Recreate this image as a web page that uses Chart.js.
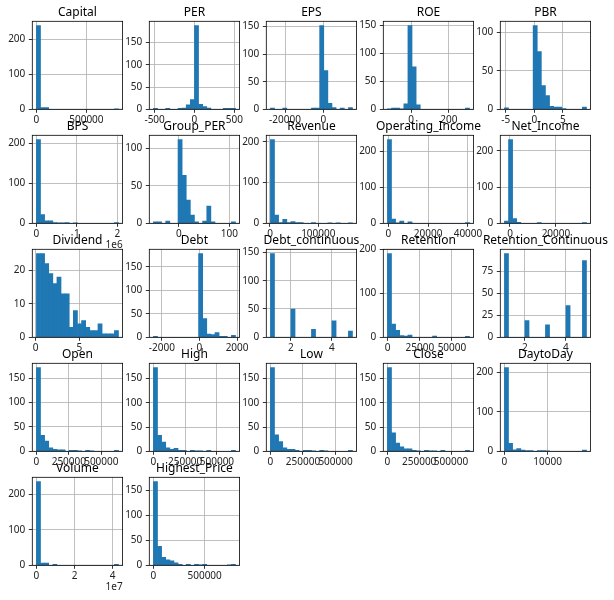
<!DOCTYPE html>
<html><head><meta charset="utf-8">
<script src="https://cdn.jsdelivr.net/npm/chart.js@4.4.0/dist/chart.umd.min.js"></script>
<style>
html,body{margin:0;padding:0;background:#fff;}
body{width:614px;height:600px;position:relative;overflow:hidden;}
canvas{position:absolute;}
</style></head><body>
<script>
// ---------- data (20 bins each) ----------
const titles = ["Capital","PER","EPS","ROE","PBR","BPS","Group_PER","Revenue","Operating_Income","Net_Income",
  "Dividend","Debt","Debt_continuous","Retention","Retention_Continuous","Open","High","Low","Close","DaytoDay",
  "Volume","Highest_Price"];

const capitalCounts   = [240,5,5,0,0,0,0,0,0,0,0,0,0,0,0,0,0,0,0,1];
const perCounts       = [2,0,0,2,0,0,2,3,10,22,188,11,6,3,0,0,0,2,2,2];
const epsCounts       = [2,0,0,2,0,0,0,0,0,0,2,2,152,70,11,3,0,2,0,3];
const roeCounts       = [1,2,2,1,10,150,76,8,0,0,0,0,0,0,0,0,0,0,0,2];
const pbrCounts       = [2,0,0,0,0,0,0,109,75,31,18,4,3,3,1,0,0,0,0,3];
const bpsCounts       = [210,22,6,6,2,1,1,2,0,1,0,0,0,0,0,0,0,0,0,2];
const groupPerCounts  = [2,2,0,3,0,0,112,64,31,11,2,0,3,23,2,0,0,0,0,2];
const revenueCounts   = [206,20,2,10,2,4,2,2,0,0,2,0,0,0,1,0,1,0,0,1];
const opIncomeCounts  = [233,12,1,6,0,4,0,0,0,0,0,0,0,0,0,0,0,0,0,2];
const netIncomeCounts = [6,231,13,3,0,0,0,0,2,0,0,0,0,0,0,0,0,0,0,2];
const dividendCounts  = [25,25,22,19,16,18,13,13,3,8,4,5,3,2,2,4,1,1,1,2];
const debtCounts      = [2,0,0,0,0,0,0,0,0,0,0,178,40,7,6,10,2,2,0,4];
const debtContCounts  = [148,0,0,0,0,50,0,0,0,0,14,0,0,0,0,29,0,0,0,11];
const retentionCounts = [191,30,16,4,3,5,0,0,0,0,0,3,0,0,0,0,0,0,0,2];
const retContCounts   = [95,0,0,0,0,19,0,0,0,0,14,0,0,0,0,36,0,0,0,87];
const openCounts      = [172,33,21,7,4,3,3,0,2,2,1,0,2,1,0,0,0,0,0,2];
const highCounts      = [173,33,19,7,4,6,2,2,0,2,1,1,0,2,0,0,0,0,0,2];
const lowCounts       = [173,34,20,7,4,4,2,0,2,2,1,0,2,1,0,0,0,0,0,2];
const closeCounts     = [173,38,17,9,5,5,2,1,0,2,1,1,0,2,0,0,0,0,0,2];
const dayToDayCounts  = [212,20,4,7,3,2,2,0,2,2,1,0,0,0,0,0,0,0,0,3];
const volumeCounts    = [236,6,6,0,3,0,0,0,0,0,0,0,0,0,0,0,0,0,0,3];
const highestCounts   = [167,38,16,11,9,5,2,0,2,0,2,1,2,0,0,0,0,0,1,2];

const allCounts = [capitalCounts, perCounts, epsCounts, roeCounts, pbrCounts, bpsCounts, groupPerCounts,
  revenueCounts, opIncomeCounts, netIncomeCounts, dividendCounts, debtCounts, debtContCounts, retentionCounts,
  retContCounts, openCounts, highCounts, lowCounts, closeCounts, dayToDayCounts, volumeCounts, highestCounts];

// data range (min, max) of each column
const dataMin = [500, -515, -27622, -125, -5.24, 1000, -50.3, 838, -458, -2430,
  0.08, -2449, 1, -242, 1, 500, 500, 500, 500, 25, 1000, 500];
const dataMax = [821000, 515, 15246, 309, 9.17, 2030000, 112.3, 170800, 40760, 33300,
  9.49, 1915, 5, 63660, 5, 632000, 646000, 630000, 645000, 19005, 43100000, 801000];

// tick values and labels
const xTickValues = [[0,500000],[-500,0,500],[-20000,0],[0,200],[-5,0,5],[0,1e6,2e6],[0,100],[0,100000],
  [0,20000,40000],[0,20000],[0,5],[-2000,0,2000],[2,4],[0,25000,50000],[2,4],[0,250000,500000],
  [0,250000,500000],[0,250000,500000],[0,250000,500000],[0,10000],[0,2e7,4e7],[0,500000]];
const xTickLabels = [["0","500000"],["-500","0","500"],["-20000","0"],["0","200"],["-5","0","5"],["0","1","2"],
  ["0","100"],["0","100000"],["0","20000","40000"],["0","20000"],["0","5"],["-2000","0","2000"],["2","4"],
  ["0","25000","50000"],["2","4"],["0","250000","500000"],["0","250000","500000"],["0","250000","500000"],
  ["0","250000","500000"],["0","10000"],["0","2","4"],["0","500000"]];
const offsetTexts = ["","","","","","1e6","","","","","","","","","","","","","","","1e7",""];
const yTickValues = [[0,100,200],[0,50,100,150],[0,50,100,150],[0,50,100,150],[0,50,100],[0,100,200],
  [0,50,100],[0,100,200],[0,100,200],[0,100,200],[0,10,20],[0,50,100,150],[0,50,100,150],[0,100,200],
  [0,25,50,75],[0,50,100,150],[0,50,100,150],[0,50,100,150],[0,50,100,150],[0,100,200],[0,100,200],
  [0,50,100,150]];

// ---------- layout ----------
Chart.defaults.font.family = "'Noto Sans', 'DejaVu Sans', sans-serif";
Chart.defaults.font.size = 10;
Chart.defaults.color = '#222';

const colL = [32.3, 149.3, 266.3, 383.3, 500.3];
const rowT = [21.3, 135.3, 249.3, 363.3, 477.3];
const FW = 90.3, FH = 88, YW = 30, XH = 30, TH = 15.9;

const framePlugin = {
  id: 'frame',
  afterDraw(chart) {
    const {ctx, chartArea: a} = chart;
    ctx.save();
    ctx.strokeStyle = '#000';
    ctx.lineWidth = 0.8;
    ctx.strokeRect(a.left, a.top, a.right - a.left, a.bottom - a.top);
    ctx.restore();
  }
};

const gridOpts = {color: '#b0b0b0', lineWidth: 0.8, drawTicks: true, tickLength: 3.5,
  tickColor: '#000', tickWidth: 0.8, offset: false};

titles.forEach((title, k) => {
  const counts = allCounts[k];
  const lo = dataMin[k], hi = dataMax[k], span = hi - lo, bw = span / counts.length;
  const pts = counts.map((c, i) => ({x: lo + (i + 0.5) * bw, y: c}));
  const xl = lo - 0.05 * span, xr = hi + 0.05 * span;
  const ymax = 1.05 * Math.max(...counts);
  const xT = xTickValues[k], xLab = xTickLabels[k], yT = yTickValues[k], off = offsetTexts[k];

  const L = colL[k % 5], T = rowT[Math.floor(k / 5)];
  const cl = Math.floor(L) - YW, ct = Math.floor(T) - 20;
  const padL = L - YW - cl;
  const cw = Math.ceil(padL + 2 * YW + FW);
  const padR = cw - padL - 2 * YW - FW;
  const padT = T - ct - TH;
  const ch = Math.ceil(T - ct + FH + XH);
  const padB = ch - (T - ct) - FH - XH;

  const cv = document.createElement('canvas');
  cv.width = cw; cv.height = ch;
  cv.style.left = cl + 'px'; cv.style.top = ct + 'px';
  cv.style.width = cw + 'px'; cv.style.height = ch + 'px';
  document.body.appendChild(cv);

  new Chart(cv, {
    type: 'bar',
    data: {datasets: [{data: pts, xAxisID: 'x', yAxisID: 'y', backgroundColor: '#1f77b4',
      borderWidth: 0, barPercentage: 1, categoryPercentage: 1}]},
    options: {
      responsive: false, animation: false, devicePixelRatio: 1,
      layout: {padding: {left: padL, right: padR, top: padT, bottom: padB}},
      plugins: {
        legend: {display: false}, tooltip: {enabled: false},
        title: {display: true, text: title, color: '#000',
          font: {size: 12, weight: 'normal', lineHeight: 1.2}, padding: {top: 0, bottom: 1.5}}
      },
      scales: {
        x: {type: 'linear', min: xl, max: xr, bounds: 'data', offset: false, z: 1,
          grid: gridOpts, border: {display: false},
          ticks: {autoSkip: false, maxRotation: 0, minRotation: 0, padding: 1.5,
            callback: (v, i) => xLab[i]},
          title: {display: off !== '', text: off, align: 'end', color: '#222',
            padding: {top: 0, bottom: 2}, font: {size: 10}},
          afterBuildTicks: s => { s.ticks = xT.map(v => ({value: v})); },
          afterFit: s => { s.height = XH; s.paddingLeft = 0; s.paddingRight = 0; s.paddingTop = 0; s.paddingBottom = 0; }
        },
        y: {type: 'linear', position: 'left', min: 0, max: ymax, bounds: 'data', z: 1,
          grid: gridOpts, border: {display: false},
          ticks: {autoSkip: false, padding: 3.5, callback: v => String(v)},
          afterBuildTicks: s => { s.ticks = yT.map(v => ({value: v})); },
          afterFit: s => { s.width = YW; s.paddingLeft = 0; s.paddingRight = 0; s.paddingTop = 0; s.paddingBottom = 0; }
        },
        yPad: {type: 'linear', position: 'right', display: true,
          grid: {display: false, drawOnChartArea: false, drawTicks: false}, border: {display: false},
          ticks: {display: false},
          afterFit: s => { s.width = YW; s.paddingLeft = 0; s.paddingRight = 0; s.paddingTop = 0; s.paddingBottom = 0; }
        }
      }
    },
    plugins: [framePlugin]
  });
});
</script>
</body></html>
